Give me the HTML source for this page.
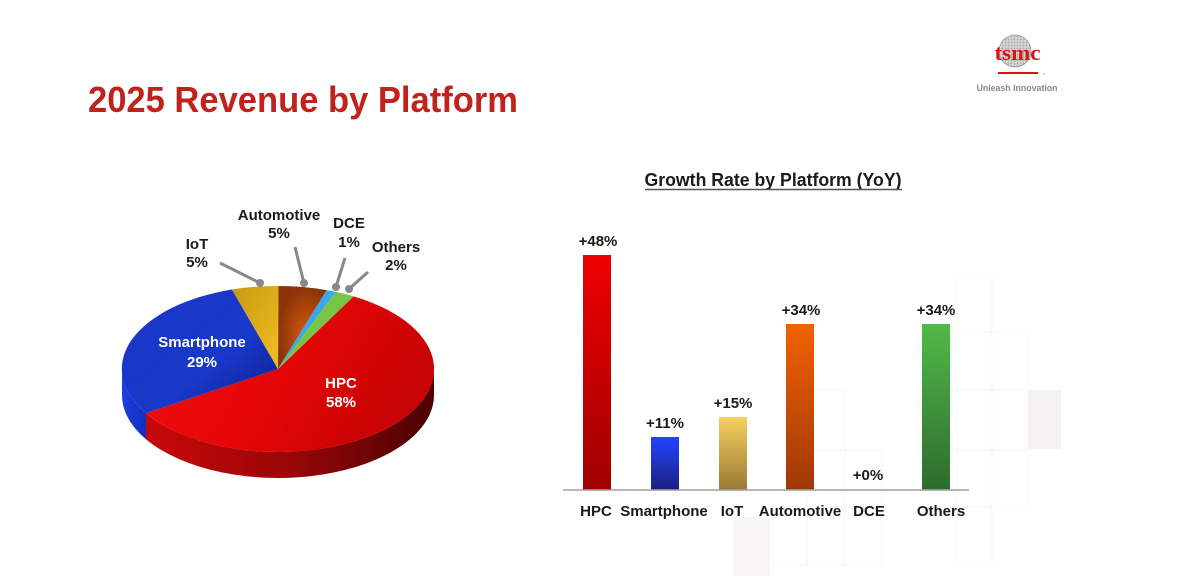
<!DOCTYPE html>
<html><head><meta charset="utf-8"><style>
html,body{margin:0;padding:0;background:#fff;}
svg{display:block;font-family:"Liberation Sans",Arial,sans-serif;}
</style></head><body>
<svg width="1188" height="576" viewBox="0 0 1188 576" xmlns="http://www.w3.org/2000/svg">
<defs>
<linearGradient id="hpcTop" x1="0" y1="0" x2="1" y2="0.3"><stop offset="0" stop-color="#f01010"/><stop offset="0.5" stop-color="#e80606"/><stop offset="1" stop-color="#c80404"/></linearGradient>
<linearGradient id="hpcSide" x1="0" y1="0" x2="1" y2="0"><stop offset="0" stop-color="#c80808"/><stop offset="0.5" stop-color="#9a0606"/><stop offset="1" stop-color="#4a0202"/></linearGradient>
<linearGradient id="spTop" x1="0" y1="0" x2="1" y2="1"><stop offset="0" stop-color="#1a36c8"/><stop offset="0.6" stop-color="#1838c8"/><stop offset="1" stop-color="#0c1c88"/></linearGradient>
<linearGradient id="spSide" x1="0" y1="0" x2="1" y2="0"><stop offset="0" stop-color="#1c3ee0"/><stop offset="1" stop-color="#1030c0"/></linearGradient>
<linearGradient id="iotTop" x1="0" y1="0" x2="1" y2="1"><stop offset="0" stop-color="#c89814"/><stop offset="1" stop-color="#f0c020"/></linearGradient>
<radialGradient id="autoTop" cx="0.6" cy="0.6" r="0.6"><stop offset="0" stop-color="#d85a10"/><stop offset="1" stop-color="#8a3408"/></radialGradient>
<linearGradient id="b1" x1="0" y1="0" x2="0" y2="1"><stop offset="0" stop-color="#ee0000"/><stop offset="1" stop-color="#a00000"/></linearGradient>
<linearGradient id="b2" x1="0" y1="0" x2="0" y2="1"><stop offset="0" stop-color="#2244ff"/><stop offset="1" stop-color="#1c2080"/></linearGradient>
<linearGradient id="b3" x1="0" y1="0" x2="0" y2="1"><stop offset="0" stop-color="#f7cf60"/><stop offset="1" stop-color="#9a7a34"/></linearGradient>
<linearGradient id="b4" x1="0" y1="0" x2="0" y2="1"><stop offset="0" stop-color="#f26200"/><stop offset="1" stop-color="#a03806"/></linearGradient>
<linearGradient id="b5" x1="0" y1="0" x2="0" y2="1"><stop offset="0" stop-color="#52ba4a"/><stop offset="1" stop-color="#2c6c2c"/></linearGradient>
<pattern id="grid" width="3" height="3" patternUnits="userSpaceOnUse"><rect width="3" height="3" fill="#d6d6d6"/><path d="M0 0H3M0 0V3" stroke="#8a8a8a" stroke-width="0.6"/></pattern>
</defs>

<!-- faint background squares -->
<g fill="none" stroke="#f8f8f8" stroke-width="1.2">
<rect x="957" y="275" width="35" height="57"/>
<rect x="957" y="332" width="35" height="58"/>
<rect x="992" y="332" width="36" height="58"/>
<rect x="918" y="390" width="39" height="60"/>
<rect x="957" y="390" width="35" height="60"/>
<rect x="992" y="390" width="36" height="60"/>
<rect x="807" y="390" width="38" height="60"/>
<rect x="845" y="450" width="37" height="57"/>
<rect x="807" y="450" width="38" height="57"/>
<rect x="957" y="450" width="35" height="57"/>
<rect x="992" y="450" width="36" height="57"/>
<rect x="772" y="507" width="35" height="58"/>
<rect x="807" y="507" width="38" height="58"/>
<rect x="845" y="507" width="37" height="58"/>
<rect x="957" y="507" width="35" height="58"/>
</g>
<rect x="1028" y="390" width="33" height="59" fill="#f5f3f1"/>
<rect x="733" y="517" width="37" height="59" fill="#f8f6f4"/>

<!-- Title -->
<text x="88" y="112" font-size="36" font-weight="bold" fill="#c0221c" textLength="430" lengthAdjust="spacingAndGlyphs">2025 Revenue by Platform</text>

<!-- Logo -->
<circle cx="1015" cy="51" r="16" fill="url(#grid)" stroke="#9a9a9a" stroke-width="0.8"/>
<text x="1017.5" y="60" font-family="Liberation Serif,serif" font-size="22" font-weight="bold" fill="#dd1111" text-anchor="middle" textLength="46" lengthAdjust="spacingAndGlyphs">tsmc</text>
<line x1="998" y1="73" x2="1038" y2="73" stroke="#dd1111" stroke-width="2"/>
<circle cx="1044" cy="74" r="0.8" fill="#999"/>
<text x="1017" y="91" font-size="9" font-weight="bold" fill="#8a8a8a" text-anchor="middle" textLength="81" lengthAdjust="spacingAndGlyphs">Unleash Innovation</text>

<!-- Pie sides -->
<path d="M434,369 A156,83 0 0 1 146,413.2 L146,439.2 A156,83 0 0 0 434,395 Z" fill="url(#hpcSide)"/>
<path d="M146,413.2 A156,83 0 0 1 122,369 L122,395 A156,83 0 0 0 146,439.2 Z" fill="url(#spSide)"/>
<!-- Pie top -->
<path d="M278,369 L353.6,296.4 A156,83 0 1 1 146,413.2 Z" fill="url(#hpcTop)"/>
<path d="M278,369 L146,413.2 A156,83 0 0 1 232,289.5 Z" fill="url(#spTop)"/>
<path d="M278,369 L232,289.5 A156,83 0 0 1 278.5,286 Z" fill="url(#iotTop)"/>
<path d="M278,369 L278.5,286 A156,83 0 0 1 326.7,290.1 Z" fill="url(#autoTop)"/>
<path d="M278,369 L326.7,290.1 A156,83 0 0 1 335.9,291.9 Z" fill="#3aa8ea"/>
<path d="M278,369 L335.9,291.9 A156,83 0 0 1 353.6,296.4 Z" fill="#78c444"/>

<!-- Leader lines -->
<g stroke="#888" stroke-width="3" fill="#888">
<line x1="220" y1="263" x2="260" y2="283"/><circle cx="260" cy="283" r="4" stroke="none"/>
<line x1="295" y1="247" x2="304" y2="283"/><circle cx="304" cy="283" r="4" stroke="none"/>
<line x1="345" y1="258" x2="336" y2="287"/><circle cx="336" cy="287" r="4" stroke="none"/>
<line x1="368" y1="272" x2="349" y2="289"/><circle cx="349" cy="289" r="4" stroke="none"/>
</g>

<!-- Pie labels -->
<g font-size="15" font-weight="bold" text-anchor="middle" fill="#1a1a1a">
<text x="197" y="249">IoT</text><text x="197" y="267">5%</text>
<text x="279" y="220">Automotive</text><text x="279" y="238">5%</text>
<text x="349" y="228">DCE</text><text x="349" y="247">1%</text>
<text x="396" y="252">Others</text><text x="396" y="270">2%</text>
</g>
<g font-size="15" font-weight="bold" text-anchor="middle" fill="#ffffff">
<text x="202" y="347">Smartphone</text><text x="202" y="367">29%</text>
<text x="341" y="388">HPC</text><text x="341" y="407">58%</text>
</g>

<!-- Bar chart -->
<text x="773" y="186" font-size="18" font-weight="bold" fill="#1a1a1a" text-anchor="middle" textLength="257" lengthAdjust="spacingAndGlyphs">Growth Rate by Platform (YoY)</text>
<line x1="645" y1="189.5" x2="902" y2="189.5" stroke="#555" stroke-width="1.5"/>

<rect x="583" y="255" width="28" height="235" fill="url(#b1)"/>
<rect x="651" y="437" width="28" height="53" fill="url(#b2)"/>
<rect x="719" y="417" width="28" height="73" fill="url(#b3)"/>
<rect x="786" y="324" width="28" height="166" fill="url(#b4)"/>
<rect x="922" y="324" width="28" height="166" fill="url(#b5)"/>
<line x1="563" y1="490" x2="969" y2="490" stroke="#a0a0a0" stroke-width="1.5"/>

<g font-size="15" font-weight="bold" text-anchor="middle" fill="#1a1a1a">
<text x="598" y="246">+48%</text>
<text x="665" y="428">+11%</text>
<text x="733" y="408">+15%</text>
<text x="801" y="315">+34%</text>
<text x="868" y="480">+0%</text>
<text x="936" y="315">+34%</text>
<text x="596" y="516">HPC</text>
<text x="664" y="516">Smartphone</text>
<text x="732" y="516">IoT</text>
<text x="800" y="516">Automotive</text>
<text x="869" y="516">DCE</text>
<text x="941" y="516">Others</text>
</g>
</svg>
</body></html>
